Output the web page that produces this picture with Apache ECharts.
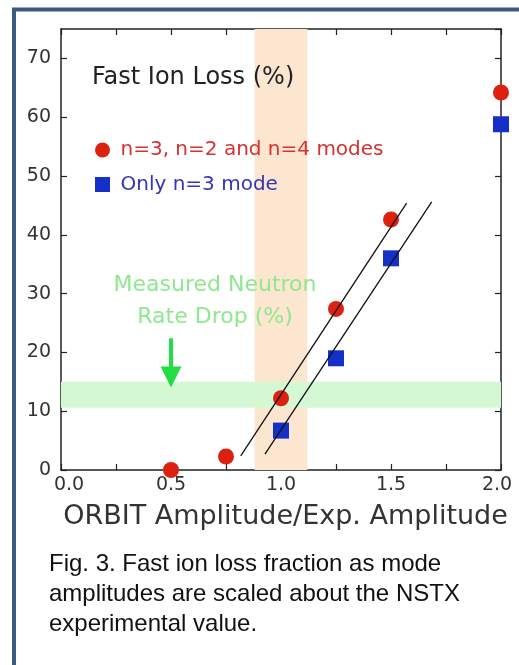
<!DOCTYPE html>
<html><head><meta charset="utf-8">
<script src="https://cdn.jsdelivr.net/npm/echarts@6/dist/echarts.min.js"></script>
<style>html,body{margin:0;padding:0;background:#fff;}#chart{width:519px;height:665px;}</style>
</head><body><div id="chart"></div>
<script>
// ---- data ----
const seriesNames = ['n=3, n=2 and n=4 modes', 'Only n=3 mode'];
const amplitudeAll = [0.5, 0.75, 1.0, 1.25, 1.5, 2.0];
const lossAll = [0, 2.3, 12.2, 27.4, 42.6, 64.2];
const amplitudeN3 = [1.0, 1.25, 1.5, 2.0];
const lossN3 = [6.7, 19.0, 36.0, 58.8];
const fitAllX = [0.817, 1.571];
const fitAllY = [2.4, 45.4];
const fitN3X = [0.927, 1.685];
const fitN3Y = [2.7, 45.6];
const expBand = [0.88, 1.12];
const neutronBand = [10.6, 15.0];
const arrowX = 0.5;
const arrowY = [22.4, 15.8];
const xTickLabels = ['0.0', '0.5', '1.0', '1.5', '2.0'];
const xLabelStep = 0.5;
const xTickStep = 0.25;
const yTickStep = 10;

const zip = (xs, ys) => xs.map((x, i) => [x, ys[i]]);
const F = 'DejaVu Sans';
const AX = '#222';

const chart = echarts.init(document.getElementById('chart'), null, {renderer: 'canvas'});

const xFmt = v => {
  const k = Math.round(v / xLabelStep * 1000) / 1000;
  if (Math.abs(k - Math.round(k)) > 1e-6) return '';
  const s = xTickLabels[Math.round(k)];
  if (Math.round(k) === 0) return '{l|' + s + '}';
  if (Math.round(k) === xTickLabels.length - 1) return '{r|' + s + '}';
  return s;
};

const frameX = (pos, show) => ({
  type: 'value', position: pos, min: 0, max: 2, interval: xTickStep,
  axisLine: {show: true, onZero: false, lineStyle: {color: AX, width: 1.5}},
  axisTick: {show: true, inside: true, length: 6, lineStyle: {color: AX, width: 1.2}},
  splitLine: {show: false},
  axisLabel: show ? {
    show: true, margin: 6, fontFamily: F, fontSize: 19, color: '#333', formatter: xFmt,
    rich: {
      l: {fontFamily: F, fontSize: 19, color: '#333', padding: [0, 0, 0, 16]},
      r: {fontFamily: F, fontSize: 19, color: '#333', padding: [0, 8, 0, 0]}
    }
  } : {show: false}
});
const frameY = (pos, show) => ({
  type: 'value', position: pos, min: 0, max: 75, interval: yTickStep,
  axisLine: {show: true, onZero: false, lineStyle: {color: AX, width: 1.5}},
  axisTick: {show: true, inside: true, length: 6, lineStyle: {color: AX, width: 1.2}},
  splitLine: {show: false},
  axisLabel: show ? {show: true, margin: 10, fontFamily: F, fontSize: 19, color: '#333', showMaxLabel: false} : {show: false}
});

const xMain = frameX('bottom', true);
xMain.name = 'ORBIT Amplitude/Exp. Amplitude';
xMain.nameLocation = 'middle';
xMain.nameGap = 33;
xMain.nameTextStyle = {fontFamily: F, fontSize: 27, color: '#333', padding: [0, 0, 0, 9]};

const option = {
  animation: false,
  backgroundColor: '#fff',
  grid: {left: 61, right: 18, top: 29, bottom: 195},
  xAxis: [xMain, frameX('top', false)],
  yAxis: [frameY('left', true), frameY('right', false)],
  legend: {
    orient: 'vertical', left: 95, top: 140, padding: 0,
    itemWidth: 26, itemHeight: 15, itemGap: 14.5,
    textStyle: {fontFamily: F, fontSize: 20, lineHeight: 20},
    data: [
      {name: seriesNames[0], icon: 'circle', itemStyle: {opacity: 1}, textStyle: {color: '#d93030'}},
      {name: seriesNames[1], icon: 'path://M0,0h10v10h-10z', itemStyle: {opacity: 1}, textStyle: {color: '#3535b8'}}
    ],
    selectedMode: false
  },
  graphic: [
    {type: 'rect', shape: {x: 14, y: 9.5, width: 540, height: 700}, style: {fill: 'none', stroke: '#3a5a80', lineWidth: 4}, z: 100},
    {type: 'text', x: 92, y: 78, style: {text: 'Fast Ion Loss (%)', fontFamily: F, fontSize: 24, fill: '#222', verticalAlign: 'middle'}, z: 50},
    {type: 'text', x: 215, y: 301.5, style: {text: 'Measured Neutron\nRate Drop (%)', fontFamily: F, fontSize: 22, lineHeight: 32, fill: '#8ee88e', align: 'center', verticalAlign: 'middle'}, z: 50},
    {type: 'text', x: 49, y: 549, style: {text: 'Fig. 3. Fast ion loss fraction as mode\namplitudes are scaled about the NSTX\nexperimental value.', fontFamily: 'Liberation Sans', fontSize: 24, lineHeight: 30, fill: '#111', verticalAlign: 'top'}, z: 50}
  ],
  series: [
    {type: 'line', name: 'expBand', data: [], z: 1, silent: true,
     markArea: {silent: true, itemStyle: {color: '#fde6d0'}, data: [[{xAxis: expBand[0]}, {xAxis: expBand[1]}]]}},
    {type: 'line', name: 'neutronBand', data: [], z: 1, silent: true,
     markArea: {silent: true, itemStyle: {color: '#d4f7d4'}, data: [[{yAxis: neutronBand[0]}, {yAxis: neutronBand[1]}]]}},
    {type: 'line', name: 'arrow', data: [], z: 2, silent: true,
     markLine: {silent: true, symbol: ['none', 'triangle'], symbolSize: 21, label: {show: false},
       lineStyle: {color: '#22dd44', width: 4, type: 'solid'}, itemStyle: {color: '#22dd44'},
       data: [[{coord: [arrowX, arrowY[0]]}, {coord: [arrowX, arrowY[1]]}]]}},
    {type: 'scatter', name: seriesNames[0], data: zip(amplitudeAll, lossAll), symbol: 'circle', symbolSize: 16,
     itemStyle: {color: '#dd2010', opacity: 1}, clip: false, z: 3},
    {type: 'scatter', name: seriesNames[1], data: zip(amplitudeN3, lossN3), symbol: 'rect', symbolSize: 16,
     itemStyle: {color: '#1530c8', opacity: 1}, clip: false, z: 3},
    {type: 'line', name: 'fitAll', data: zip(fitAllX, fitAllY), symbol: 'none', lineStyle: {color: '#111', width: 1.3}, z: 4, silent: true},
    {type: 'line', name: 'fitN3', data: zip(fitN3X, fitN3Y), symbol: 'none', lineStyle: {color: '#111', width: 1.3}, z: 4, silent: true}
  ]
};
chart.setOption(option);
</script>
</body></html>
